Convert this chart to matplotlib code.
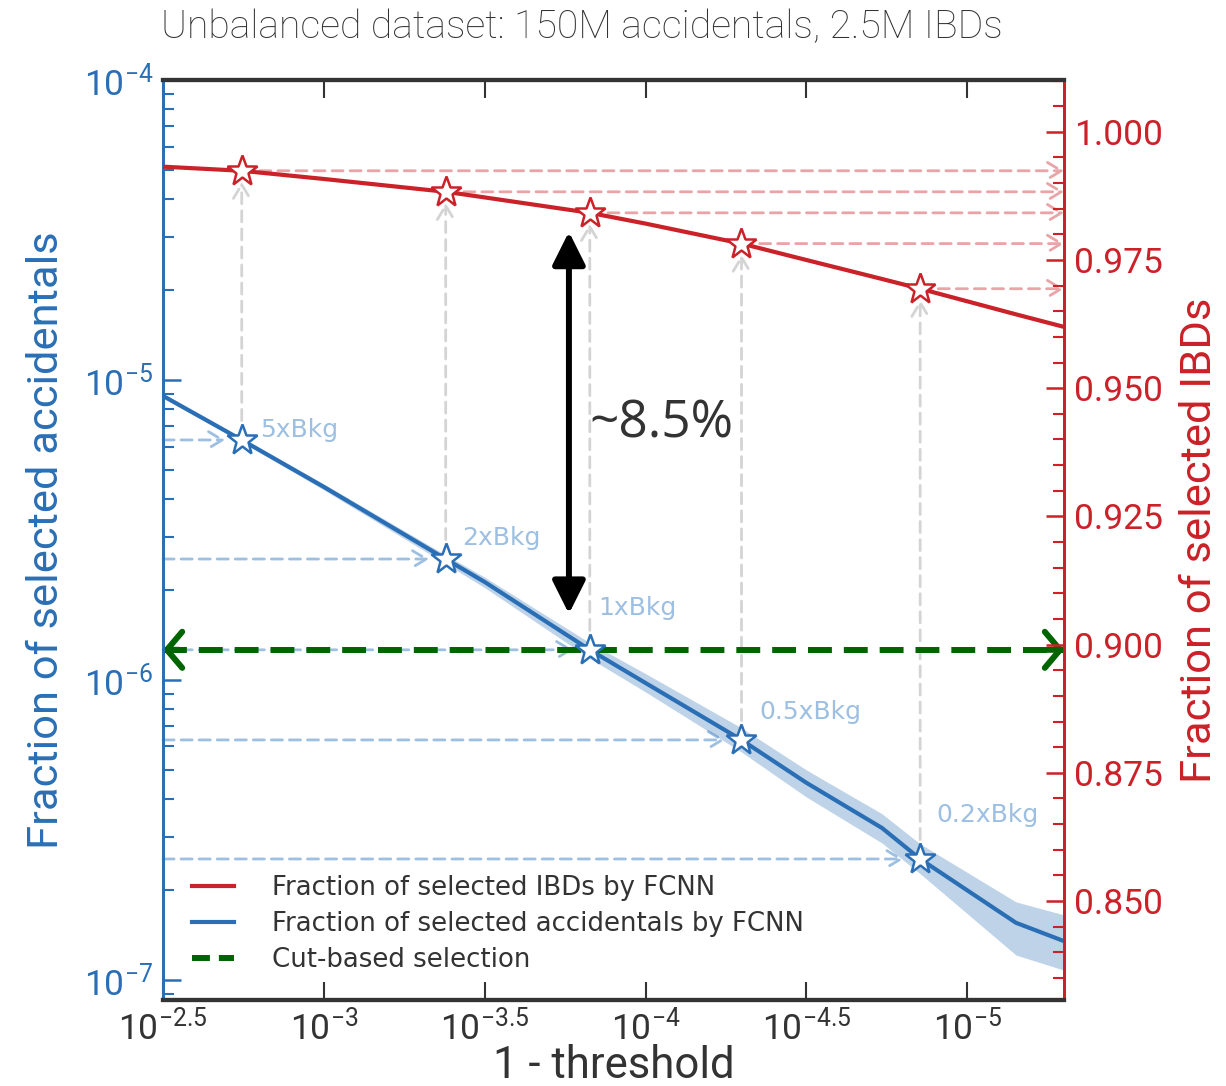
import matplotlib
matplotlib.use("Agg")
import matplotlib.pyplot as plt
from matplotlib.ticker import FixedLocator, NullLocator, MultipleLocator, FormatStrFormatter, LogLocator
from matplotlib.lines import Line2D

# 1 - threshold values along the curves
thr = [3.1623e-3, 1.80e-3, 1.00e-3, 4.18e-4, 3.16e-4, 1.49e-4, 1.00e-4,
       5.03e-5, 3.16e-5, 1.84e-5, 1.40e-5, 7.05e-6, 5.03e-6]
ibd_frac = [0.9932, 0.9924, 0.9908, 0.9883, 0.9872, 0.9842, 0.9821,
            0.9782, 0.9750, 0.9713, 0.9694, 0.9644, 0.9620]
acc_frac = [8.85e-6, 6.31e-6, 4.40e-6, 2.53e-6, 2.12e-6, 1.26e-6, 9.77e-7,
            6.31e-7, 4.54e-7, 3.21e-7, 2.53e-7, 1.55e-7, 1.35e-7]
acc_lo = [8.71e-6, 6.21e-6, 4.30e-6, 2.44e-6, 2.03e-6, 1.18e-6, 9.12e-7,
          5.75e-7, 4.07e-7, 2.86e-7, 2.26e-7, 1.21e-7, 1.08e-7]
acc_hi = [8.98e-6, 6.41e-6, 4.50e-6, 2.61e-6, 2.20e-6, 1.33e-6, 1.05e-6,
          6.92e-7, 5.01e-7, 3.58e-7, 2.84e-7, 1.82e-7, 1.65e-7]

# working points (multiples of the cut-based background)
wp_thr = [1.80e-3, 4.18e-4, 1.49e-4, 5.03e-5, 1.40e-5]
wp_acc = [6.31e-6, 2.53e-6, 1.26e-6, 6.31e-7, 2.53e-7]
wp_ibd = [0.9924, 0.9883, 0.9842, 0.9782, 0.9694]
wp_labels = ["5xBkg", "2xBkg", "1xBkg", "0.5xBkg", "0.2xBkg"]
wp_label_offset = [(13, 7), (12, 15), (6, 30), (13, 20), (12, 32)]

cut_acc = 1.26e-6
cut_ibd = 0.900
gain_label = "~8.5%"

xticks = [3.1623e-3, 1e-3, 3.1623e-4, 1e-4, 3.1623e-5, 1e-5]
xticklabels = [r"$\mathdefault{10^{-2.5}}$", r"$\mathdefault{10^{-3}}$",
               r"$\mathdefault{10^{-3.5}}$", r"$\mathdefault{10^{-4}}$",
               r"$\mathdefault{10^{-4.5}}$", r"$\mathdefault{10^{-5}}$"]

BLUE = "#2a6fb5"
RED = "#cb2128"
GREEN = "#006400"
DARK = "#333333"
LIGHT_BLUE = "#9dbfe2"
LIGHT_RED = "#eaa3a6"
GRAY = "#d4d4d4"
BIGFONT = ["Roboto", "DejaVu Sans"]

plt.rcParams["font.family"] = ["DejaVu Sans"]

fig = plt.figure(figsize=(12.26, 10.86), dpi=100)
ax = fig.add_axes([163 / 1226, 1 - 1000 / 1086, 901 / 1226, 920 / 1086])
ax.set_xscale("log")
ax.set_yscale("log")
ax.set_xlim(3.1623e-3, 5.0e-6)
ax.set_ylim(8.57e-8, 1e-4)

ax2 = ax.twinx()
ax2.set_ylim(0.8307, 1.0101)

# curves
ax.fill_between(thr, acc_lo, acc_hi, color=BLUE, alpha=0.3, lw=0, zorder=2)
ax.plot(thr, acc_frac, color=BLUE, lw=3, zorder=3)
ax2.plot(thr, ibd_frac, color=RED, lw=3, zorder=3)

# cut-based selection line with arrow heads at both ends
xl, xr = ax.get_xlim()
ax.plot([xl, xr], [cut_acc, cut_acc], color=GREEN, lw=4.3, ls=(0, (4, 2)), zorder=4)
for xe, xs in [(xl, 10**-2.55), (xr, 10**-5.25)]:
    ax.annotate("", xy=(xe, cut_acc), xytext=(xs, cut_acc),
                arrowprops=dict(arrowstyle="->,head_length=0.55,head_width=0.65",
                                color=GREEN, lw=4.3, shrinkA=0, shrinkB=0,
                                mutation_scale=20), zorder=4)

# guide arrows for working points
for t, a, i, lab, off in zip(wp_thr, wp_acc, wp_ibd, wp_labels, wp_label_offset):
    ax.annotate("", xy=(t, i), xycoords=ax2.transData,
                xytext=(t, a), textcoords=ax.transData,
                arrowprops=dict(arrowstyle="->,head_length=0.5,head_width=0.3",
                                color=GRAY, lw=2, ls=(0, (4, 2.5)),
                                shrinkA=14, shrinkB=8, mutation_scale=20), zorder=1)
    ax.annotate("", xy=(t, a), xytext=(xl, a),
                arrowprops=dict(arrowstyle="->,head_length=0.5,head_width=0.3",
                                color=LIGHT_BLUE, lw=2, ls=(0, (4, 2.5)),
                                shrinkA=0, shrinkB=12, mutation_scale=20), zorder=1)
    ax2.annotate("", xy=(xr, i), xytext=(t, i),
                 arrowprops=dict(arrowstyle="->,head_length=0.5,head_width=0.3",
                                 color=LIGHT_RED, lw=2, ls=(0, (4, 2.5)),
                                 shrinkA=0, shrinkB=0, mutation_scale=20), zorder=1)
    ax.annotate(lab, xy=(t, a), xytext=off, textcoords="offset points",
                color=LIGHT_BLUE, fontsize=18, va="center", ha="left", zorder=6)

ax.plot(wp_thr, wp_acc, ls="none", marker="*", ms=23, mfc="white", mec=BLUE,
        mew=1.8, zorder=5)
ax2.plot(wp_thr, wp_ibd, ls="none", marker="*", ms=23, mfc="white", mec=RED,
         mew=1.8, zorder=5)

# gain annotation
ax2.annotate("", xy=(1.73e-4, 0.9805), xytext=(1.73e-4, 0.9060),
             arrowprops=dict(arrowstyle="<|-|>,head_length=1.0,head_width=0.5",
                             color="black", lw=4.3, shrinkA=0, shrinkB=0,
                             mutation_scale=20), zorder=6)
ax2.text(1.49e-4, 0.9430, gain_label, fontsize=37, color=DARK, va="center",
         ha="left", family=["Open Sans", "DejaVu Sans"])

# axes styling
ax.xaxis.set_major_locator(FixedLocator(xticks))
ax.xaxis.set_minor_locator(NullLocator())
ax.set_xticklabels(xticklabels, family=BIGFONT, fontsize=25.5, color=DARK)
ax.yaxis.set_major_locator(LogLocator(base=10, numticks=10))
ax.yaxis.set_minor_locator(LogLocator(base=10, subs=range(2, 10), numticks=20))
ax.tick_params(axis="y", which="both", direction="in", colors=BLUE,
               labelsize=25.5, pad=7)
ax.tick_params(axis="y", which="major", length=13, width=1.8)
ax.tick_params(axis="y", which="minor", length=8, width=1.5)
for lab in ax.get_yticklabels():
    lab.set_family(BIGFONT)
ax.tick_params(axis="x", which="major", direction="in", length=13, width=1.5,
               top=True, color=DARK, pad=6)

ax2.yaxis.set_major_locator(MultipleLocator(0.025))
ax2.yaxis.set_minor_locator(MultipleLocator(0.005))
ax2.yaxis.set_major_formatter(FormatStrFormatter("%.3f"))
ax2.tick_params(axis="y", which="both", direction="in", colors=RED,
                labelsize=25.5, pad=7)
ax2.tick_params(axis="y", which="major", length=13, width=1.8)
ax2.tick_params(axis="y", which="minor", length=8, width=1.5)
for lab in ax2.get_yticklabels():
    lab.set_family(BIGFONT)

for a in (ax, ax2):
    a.spines["top"].set_color(DARK)
    a.spines["bottom"].set_color(DARK)
    a.spines["top"].set_linewidth(3)
    a.spines["bottom"].set_linewidth(3)
    a.spines["left"].set_color(BLUE)
    a.spines["right"].set_color(RED)
    a.spines["left"].set_linewidth(2)
    a.spines["right"].set_linewidth(2)

ax.set_xlabel("1 - threshold", family=BIGFONT, fontsize=31.5, color=DARK)
ax.xaxis.set_label_coords(0.5, -0.049)
ax.set_ylabel("Fraction of selected accidentals", family=BIGFONT, fontsize=31.3,
              color=BLUE)
ax.yaxis.set_label_coords(-0.106, 0.5)
ax2.set_ylabel("Fraction of selected IBDs", family=BIGFONT, fontsize=31.3,
               color=RED)
ax2.yaxis.set_label_coords(1.128, 0.5)
fig.text(582 / 1226, 1 - 27 / 1086, "Unbalanced dataset: 150M accidentals, 2.5M IBDs",
         family=BIGFONT, fontsize=28.2, color=DARK, ha="center", va="center",
         weight="light")

handles = [Line2D([], [], color=RED, lw=3),
           Line2D([], [], color=BLUE, lw=3),
           Line2D([], [], color=GREEN, lw=4.3, ls=(0, (3, 1.5)))]
labels = ["Fraction of selected IBDs by FCNN",
          "Fraction of selected accidentals by FCNN",
          "Cut-based selection"]
ax2.legend(handles, labels, loc="lower left", bbox_to_anchor=(0.0206, 0.0185),
           borderaxespad=0, frameon=False, fontsize=18.7, handlelength=1.6,
           handletextpad=1.5, labelspacing=0.38, labelcolor=DARK)

fig.savefig("out.png", dpi=100)
